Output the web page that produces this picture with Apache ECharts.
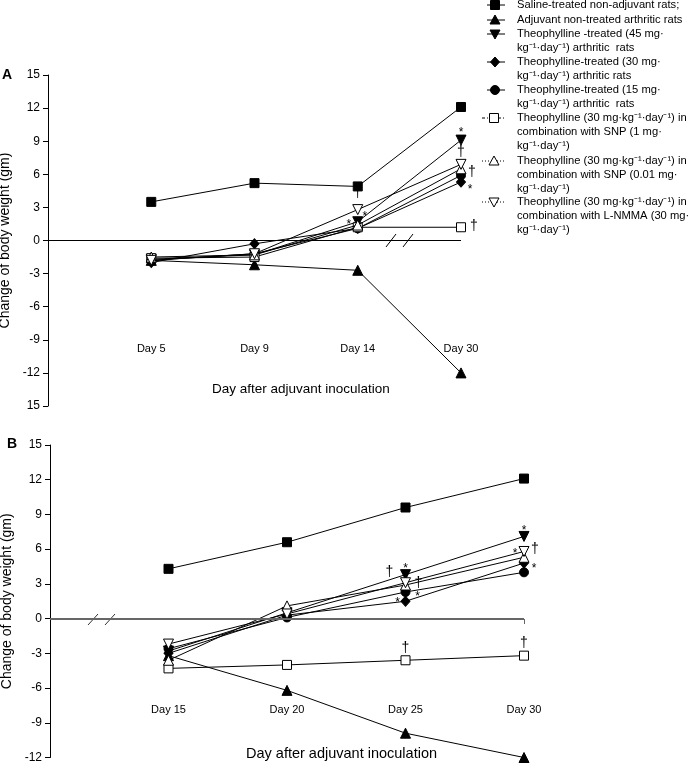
<!DOCTYPE html>
<html><head><meta charset="utf-8">
<script src="https://cdn.jsdelivr.net/npm/echarts@6/dist/echarts.min.js"></script>
<style>html,body{margin:0;padding:0;background:#fff}#c{width:691px;height:767px}</style>
</head><body><div id="c"></div>
<script>
// ---------- DATA ----------
const daysA = ['Day 5', 'Day 9', 'Day 14', 'Day 30'];
const daysB = ['Day 15', 'Day 20', 'Day 25', 'Day 30'];

const groupNames = [
  'Saline-treated non-adjuvant rats;',
  'Adjuvant non-treated arthritic rats',
  'Theophylline -treated (45 mg·\nkg⁻¹·day⁻¹) arthritic  rats',
  'Theophylline-treated (30 mg·\nkg⁻¹·day⁻¹) arthritic rats',
  'Theophylline-treated (15 mg·\nkg⁻¹·day⁻¹) arthritic  rats',
  'Theophylline (30 mg·kg⁻¹·day⁻¹) in\ncombination with SNP (1 mg·\nkg⁻¹·day⁻¹)',
  'Theophylline (30 mg·kg⁻¹·day⁻¹) in\ncombination with SNP (0.01 mg·\nkg⁻¹·day⁻¹)',
  'Theophylline (30 mg·kg⁻¹·day⁻¹) in\ncombination with L-NMMA (30 mg·\nkg⁻¹·day⁻¹)'
];

// Panel A (change of body weight, gm)
const salineA  = [3.5, 5.2, 4.9, 12.1];
const adjuvA   = [-1.8, -2.2, -2.7, -12.0];
const theo45A  = [-1.7, -1.3, 1.7, 9.1];
const theo30A  = [-2.0, -0.3, 1.1, 5.3];
const theo15A  = [-1.8, -1.2, 1.1, 5.9];
const snp1A    = [-1.6, -1.5, 1.2, 1.2];
const snp001A  = [-1.5, -1.3, 1.4, 6.5];
const lnmmaA   = [-1.8, -1.2, 2.8, 6.9];

// Panel B
const salineB  = [4.3, 6.6, 9.6, 12.1];
const adjuvB   = [-3.2, -6.2, -9.9, -12.0];
const theo45B  = [-2.8, 0.5, 3.8, 7.1];
const theo30B  = [-3.0, 0.3, 1.5, 4.8];
const theo15B  = [-2.6, 0.1, 2.3, 4.0];
const snp1B    = [-4.3, -4.0, -3.6, -3.2];
const snp001B  = [-3.6, 1.1, 2.9, 5.3];
const lnmmaB   = [-2.2, 0.4, 3.1, 5.8];

// y tick labels (bottom to top); panel A's bottom label reads "15" in the original
const yLabelsA = ['15', '-12', '-9', '-6', '-3', '0', '3', '6', '9', '12', '15'];
const yLabelsB = ['-12', '-9', '-6', '-3', '0', '3', '6', '9', '12', '15'];

// significance marks: [series index, day index, mark]
const notesA = [[7, 2, '†'], [2, 2, '*'], [7, 2, '*'], [2, 3, '*'], [2, 3, '†'], [4, 3, '†'], [3, 3, '*'], [5, 3, '†']];
const notesB = [[2, 2, '†'], [2, 2, '*'], [7, 2, '†'], [3, 2, '*'], [4, 2, '*'], [5, 2, '†'],
                [2, 3, '*'], [7, 3, '*'], [7, 3, '†'], [3, 3, '*'], [5, 3, '†']];

// ---------- LAYOUT / STYLE ----------
const noteOffsetsA = [[0, -16], [-9, 0], [7, 4], [0, -10], [0, 12], [11, -3], [9, 5], [13, -1]];
const noteOffsetsB = [[-16, -2], [0, -9], [13, 0], [-8, -2], [12, 2], [0, -12],
                      [0, -9], [-9, -1], [11, -2], [10, 3], [0, -13]];

const FONT = '"Liberation Sans", Arial, Helvetica, sans-serif';
const symStyles = [
  { symbol: 'rect', size: 9, fill: '#000', rotate: 0 },
  { symbol: 'triangle', size: 10, fill: '#000', rotate: 0 },
  { symbol: 'triangle', size: 10, fill: '#000', rotate: 180 },
  { symbol: 'diamond', size: [9, 10], fill: '#000', rotate: 0 },
  { symbol: 'circle', size: 9, fill: '#000', rotate: 0 },
  { symbol: 'rect', size: 9, fill: '#fff', rotate: 0 },
  { symbol: 'triangle', size: 10, fill: '#fff', rotate: 0 },
  { symbol: 'triangle', size: 10, fill: '#fff', rotate: 180 }
];

const panelA = [salineA, adjuvA, theo45A, theo30A, theo15A, snp1A, snp001A, lnmmaA];
const panelB = [salineB, adjuvB, theo45B, theo30B, theo15B, snp1B, snp001B, lnmmaB];

function buildSeries(panel, days, notes, offsets, axisIdx, zeroStyle) {
  return panel.map((vals, i) => {
    const st = symStyles[i];
    const marks = [];
    notes.forEach((n, k) => {
      if (n[0] !== i) return;
      const isStar = n[2] === '*';
      marks.push({
        coord: [days[n[1]], vals[n[1]]],
        symbol: 'circle', symbolSize: 1,
        itemStyle: { color: 'rgba(0,0,0,0)' },
        label: {
          show: true, formatter: n[2], position: 'inside',
          offset: [offsets[k][0], offsets[k][1] + (isStar ? 3 : 0)],
          color: '#000', fontFamily: FONT, fontSize: isStar ? 12 : 14
        }
      });
    });
    const s = {
      type: 'line',
      name: groupNames[i].replace(/\n/g, ' '),
      xAxisIndex: axisIdx, yAxisIndex: axisIdx,
      data: days.map((d, j) => [d, vals[j]]),
      symbol: st.symbol, symbolSize: st.size, symbolRotate: st.rotate,
      showSymbol: true,
      lineStyle: { color: '#000', width: 1 },
      itemStyle: { color: st.fill, borderColor: '#000', borderWidth: 1 },
      emphasis: { disabled: true },
      z: 3 + i * 0.01,
      markPoint: marks.length ? { data: marks, silent: true, animation: false, z: 10 } : undefined
    };
    if (i === 0) {
      s.markLine = {
        silent: true, symbol: ['none', 'none'], animation: false,
        label: { show: false },
        lineStyle: zeroStyle,
        data: [{ yAxis: 0 }]
      };
    }
    return s;
  });
}

const chart = echarts.init(document.getElementById('c'), null, { renderer: 'canvas' });

function yAxisCfg(idx, min, max, labels, gap) {
  return {
    type: 'value', gridIndex: idx, min: min, max: max, interval: 3,
    name: 'Change of body weight (gm)', nameLocation: 'middle', nameGap: gap, nameRotate: 90,
    nameTextStyle: { fontFamily: FONT, fontSize: 14, color: '#000' },
    axisLine: { show: true, lineStyle: { color: '#000', width: 1 } },
    axisTick: { show: true, length: 5, lineStyle: { color: '#000' } },
    splitLine: { show: false },
    axisLabel: {
      fontFamily: FONT, fontSize: 12, color: '#000', margin: 8,
      formatter: v => labels[Math.round((v - min) / 3)]
    }
  };
}
function xAxisCfg(idx, days, offset) {
  return {
    type: 'category', gridIndex: idx, data: [''].concat(days), boundaryGap: false,
    position: 'bottom', offset: offset,
    axisLine: { show: false }, axisTick: { show: false }, splitLine: { show: false },
    axisLabel: { interval: 0, fontFamily: FONT, fontSize: 11, color: '#000' }
  };
}

const legendRows = [5, 20, 34, 62, 90, 118, 161, 202];
const legendGraphics = [];
legendRows.forEach((y, i) => {
  const st = symStyles[i];
  const cx = i < 5 ? 495 : 494;
  const dash = i < 5 ? null : (i === 5 ? [3, 2, 1, 2] : [1, 2]);
  legendGraphics.push({
    type: 'line', shape: { x1: i < 5 ? 487 : 482, y1: y, x2: 505, y2: y },
    style: { stroke: '#000', lineWidth: 1, lineDash: dash }
  });
  const style = { fill: st.fill, stroke: '#000', lineWidth: 1 };
  let el;
  if (st.symbol === 'rect') el = { type: 'rect', shape: { x: cx - 4.5, y: y - 4.5, width: 9, height: 9 }, style };
  else if (st.symbol === 'circle') el = { type: 'circle', shape: { cx: cx, cy: y, r: 4.5 }, style };
  else if (st.symbol === 'diamond') el = { type: 'polygon', shape: { points: [[cx, y - 5], [cx + 4.5, y], [cx, y + 5], [cx - 4.5, y]] }, style };
  else if (st.rotate === 180) el = { type: 'polygon', shape: { points: [[cx - 5, y - 4], [cx + 5, y - 4], [cx, y + 5]] }, style };
  else el = { type: 'polygon', shape: { points: [[cx, y - 5], [cx + 5, y + 4], [cx - 5, y + 4]] }, style };
  legendGraphics.push(el);
  legendGraphics.push({
    type: 'text', left: 517, top: y - 7,
    style: { text: groupNames[i], fontFamily: FONT, fontSize: 11.2, lineHeight: 14, fill: '#000' }
  });
});

const decor = [
  // break marks on zero line, panel A
  { type: 'line', shape: { x1: 386, y1: 247, x2: 396, y2: 234 }, style: { stroke: '#000', lineWidth: 1 } },
  { type: 'line', shape: { x1: 403, y1: 247, x2: 413, y2: 234 }, style: { stroke: '#000', lineWidth: 1 } },
  // break marks on zero line, panel B
  { type: 'rect', shape: { x: 93, y: 617, width: 16, height: 4 }, style: { fill: '#fff' } },
  { type: 'line', shape: { x1: 88, y1: 625, x2: 98, y2: 614 }, style: { stroke: '#333', lineWidth: 1 } },
  { type: 'line', shape: { x1: 105, y1: 625, x2: 115, y2: 614 }, style: { stroke: '#333', lineWidth: 1 } },
  { type: 'line', shape: { x1: 524.5, y1: 619, x2: 524.5, y2: 624 }, style: { stroke: '#666', lineWidth: 1 } },
  // panel letters and axis titles
  { type: 'text', left: 2, top: 68, style: { text: 'A', fontFamily: FONT, fontSize: 14, fontWeight: 'bold', fill: '#000' } },
  { type: 'text', left: 7, top: 437, style: { text: 'B', fontFamily: FONT, fontSize: 14, fontWeight: 'bold', fill: '#000' } },
  { type: 'text', left: 212, top: 382, style: { text: 'Day after adjuvant inoculation', fontFamily: FONT, fontSize: 13.5, fill: '#000' } },
  { type: 'text', left: 246, top: 746, style: { text: 'Day after adjuvant inoculation', fontFamily: FONT, fontSize: 14.5, fill: '#000' } }
];

const option = {
  animation: false,
  backgroundColor: '#fff',
  textStyle: { fontFamily: FONT },
  grid: [
    { left: 48, top: 75, width: 413, height: 331, containLabel: false, outerBoundsMode: 'none' },
    { left: 50, top: 445, width: 474, height: 312.5, containLabel: false, outerBoundsMode: 'none' }
  ],
  xAxis: [xAxisCfg(0, daysA, -71), xAxisCfg(1, daysB, -61)],
  yAxis: [yAxisCfg(0, -15, 15, yLabelsA, 28), yAxisCfg(1, -12, 15, yLabelsB, 30)],
  series: buildSeries(panelA, daysA, notesA, noteOffsetsA, 0, { color: '#000', width: 1, type: 'solid' })
    .concat(buildSeries(panelB, daysB, notesB, noteOffsetsB, 1, { color: '#666', width: 2, type: 'solid' })),
  graphic: legendGraphics.concat(decor)
};
chart.setOption(option);
</script></body></html>
